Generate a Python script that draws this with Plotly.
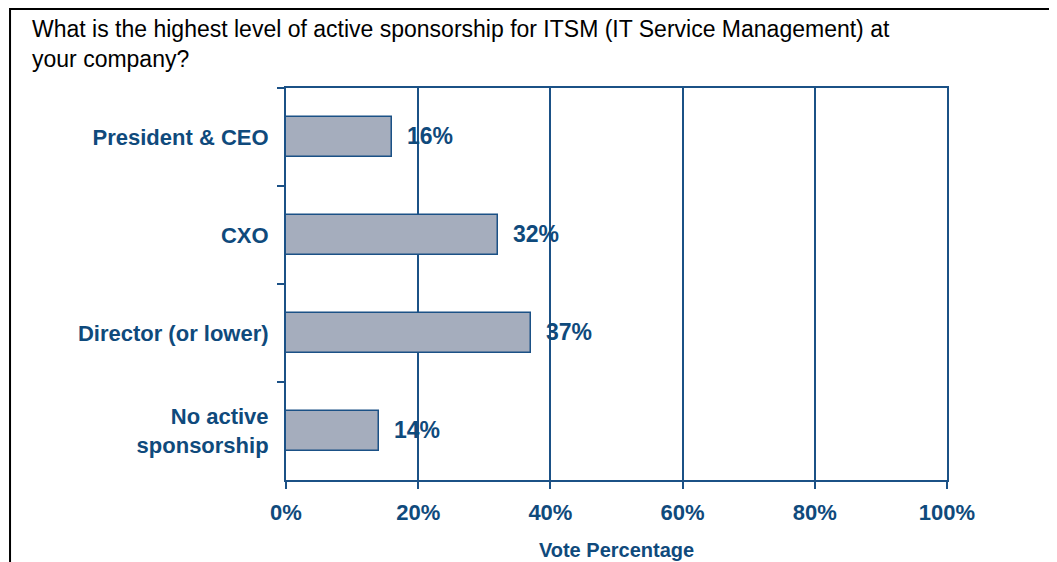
import plotly.graph_objects as go

# data
categories = ['President & CEO', 'CXO', 'Director (or lower)', 'No active<br>sponsorship']
votes = [16, 32, 37, 14]
vote_labels = ['16%', '32%', '37%', '14%']
x_ticks = [0, 20, 40, 60, 80, 100]
x_tick_labels = ['0%', '20%', '40%', '60%', '80%', '100%']

title_text = ('What is the highest level of active sponsorship for ITSM (IT Service Management) at'
              '<br>your company?')

BLUE = '#0f4a7c'
LINE = '#1b5186'
FONT = 'Liberation Sans, Arial, sans-serif'

fig = go.Figure()

fig.add_trace(go.Bar(
    x=votes,
    y=categories,
    orientation='h',
    width=0.41,
    marker=dict(color='#a5adbd', line=dict(color=LINE, width=1.5)),
    text=vote_labels,
    texttemplate='  %{text}',
    textposition='outside',
    cliponaxis=False,
    textfont=dict(family=FONT, size=23, color=BLUE, weight='bold'),
    showlegend=False,
))

# page has an 8px body margin, so margins are shifted to compensate
fig.update_layout(
    width=1057,
    height=562,
    margin=dict(l=278, r=118, t=80, b=90),
    plot_bgcolor='white',
    paper_bgcolor='white',
    font_family=FONT,
    bargap=0,
)

fig.update_xaxes(
    range=[0, 100],
    tickvals=x_ticks,
    ticktext=x_tick_labels,
    tickfont=dict(family=FONT, size=22, color=BLUE, weight='bold'),
    ticks='outside', ticklen=7, tickwidth=2, tickcolor=LINE,
    ticklabelstandoff=5,
    showgrid=True, gridcolor=LINE, gridwidth=2,
    showline=True, linecolor=LINE, linewidth=2, mirror=True,
    zeroline=False,
    title=dict(text='Vote Percentage', standoff=19,
               font=dict(family=FONT, size=20, color=BLUE, weight='bold')),
)

fig.update_yaxes(
    autorange='reversed',
    tickson='boundaries',
    ticks='outside', ticklen=7, tickwidth=2, tickcolor=LINE,
    tickfont=dict(family=FONT, size=22, color=BLUE, weight='bold'),
    ticklabelstandoff=11,
    showgrid=False,
    showline=True, linecolor=LINE, linewidth=2, mirror=True,
    zeroline=False,
)

# question text at top left
fig.add_annotation(
    text=title_text,
    xref='paper', yref='paper',
    x=-0.387, y=1.19,
    xanchor='left', yanchor='top',
    align='left',
    showarrow=False,
    font=dict(family=FONT, size=23, color='black'),
)

# outer frame, running off the right and bottom of the picture
fig.add_shape(
    type='rect', xref='paper', yref='paper',
    x0=-0.4175, x1=1.3, y0=-0.5, y1=1.2015,
    line=dict(color='black', width=2),
)

fig.write_html('out.html')
